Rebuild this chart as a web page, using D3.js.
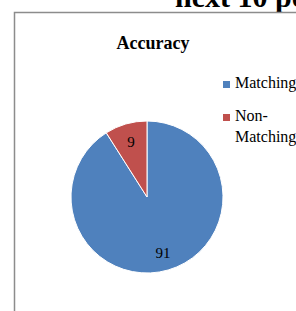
<!DOCTYPE html>
<html>
<head>
<meta charset="utf-8">
<script src="https://cdn.jsdelivr.net/npm/d3@7"></script>
<style>
  body { margin: 0; background: #fff; }
  svg { display: block; }
</style>
</head>
<body>
<script>
const categories = ["Matching", "Non-Matching"];
const values = [91, 9];
const colors = ["#4F81BD", "#C0504D"];

const W = 296, H = 311;
const serif = "'Liberation Serif', 'Times New Roman', serif";
const svg = d3.select("body").append("svg").attr("width", W).attr("height", H);

  // page heading, cut by the crop like in the source
svg.append("text")
    .attr("x", 175).attr("y", 7)
    .style("font-family", serif)
    .style("font-weight", "bold").style("font-size", "30px")
    .text("next 10 po");

  // chart frame
svg.append("path")
    .attr("d", `M14.5,${H} L14.5,12.5 L${W},12.5`)
    .attr("fill", "none").attr("stroke", "#8c8c8c").attr("stroke-width", 1.5);

svg.append("text")
    .attr("x", 153).attr("y", 49)
    .attr("text-anchor", "middle")
    .style("font-family", serif)
    .style("font-weight", "bold").style("font-size", "18px")
    .text("Accuracy");

const cx = 147, cy = 197, r = 76;
const pie = d3.pie().sort(null).value(d => d.value);
const data = pie(categories.map((c, i) => ({name: c, value: values[i]})));
const arc = d3.arc().innerRadius(0).outerRadius(r);
const labelArc = d3.arc().innerRadius(r * 0.76).outerRadius(r * 0.76);

const g = svg.append("g").attr("transform", `translate(${cx},${cy})`);
g.selectAll("path.slice")
  .data(data)
  .join("path")
    .attr("class", "slice")
    .attr("d", arc)
    .attr("fill", (d, i) => colors[i])
    .attr("stroke", "#fff").attr("stroke-width", 1);

g.selectAll("text.lbl")
  .data(data)
  .join("text")
    .attr("class", "lbl")
    .attr("transform", d => `translate(${labelArc.centroid(d)})`)
    .attr("text-anchor", "middle")
    .attr("dy", "0.35em")
    .style("font-family", serif)
    .style("font-size", "15px")
    .text(d => d.data.value);

  // legend
const legend = svg.append("g").attr("transform", "translate(223,0)");
const legendY = [88, 121];
categories.forEach((c, i) => {
  legend.append("rect")
      .attr("x", 0).attr("y", legendY[i] - 7)
      .attr("width", 7).attr("height", 7)
      .attr("fill", colors[i]);
  const t = legend.append("text")
      .attr("x", 12).attr("y", legendY[i])
      .style("font-family", serif)
      .style("font-size", "16px");
  const parts = c === "Non-Matching" ? ["Non-", "Matching"] : [c];
  parts.forEach((p, j) => {
    t.append("tspan").attr("x", 12).attr("dy", j === 0 ? 0 : 21).text(p);
  });
});
</script>
</body>
</html>
